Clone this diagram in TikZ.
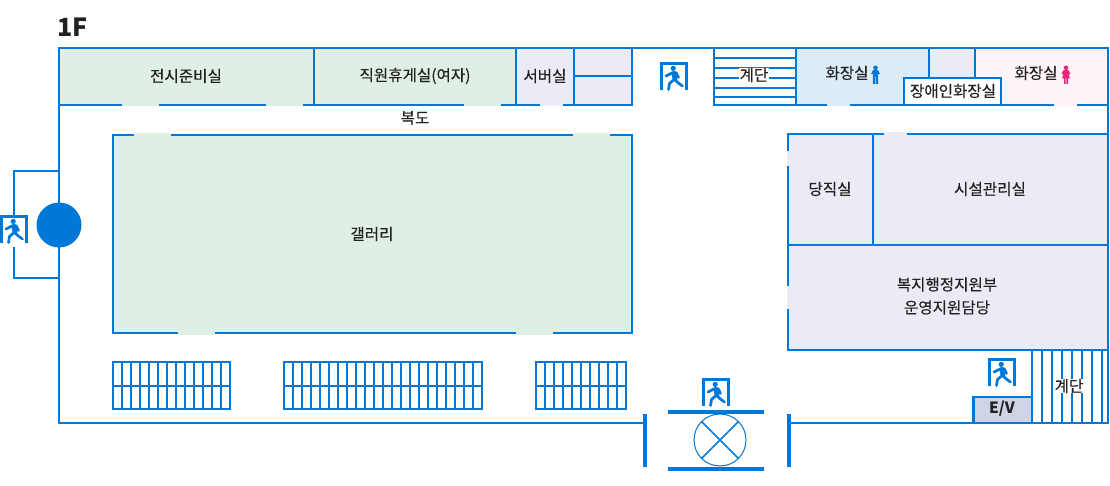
\documentclass[tikz,border=0pt]{standalone}
\usepackage{fontspec}
\setmainfont{Noto Sans CJK KR}[FakeBold=0.25]
\newfontfamily\floorfont{Noto Sans CJK KR}
\usepackage{xcolor}
\definecolor{wall}{HTML}{0078D7}
\definecolor{galgreen}{HTML}{E0EFE3}
\definecolor{offlav}{HTML}{EAEBF4}
\definecolor{wcblue}{HTML}{DCECF9}
\definecolor{wcpink}{HTML}{FFF5F9}
\definecolor{evgrey}{HTML}{CFD3E6}
\definecolor{ladypink}{HTML}{E6267E}
\definecolor{inktext}{HTML}{222222}
\tikzset{
  room/.style={draw=wall, line width=2.3pt},
  stairline/.style={draw=wall, line width=2.2pt},
  label/.style={text=inktext, font=\fontsize{15.6}{23}\selectfont, align=center, inner sep=0pt},
  stairlabel/.style={label, fill=white, inner sep=0.4pt},
  exitman/.pic={
    \draw[wall, line width=3.2pt] (1.4,28) -- (1.4,1.6) -- (26.6,1.6) -- (26.6,28);
    \fill[wall] (13.2,6.4) circle (2.6);
    \draw[wall, line width=5pt, line cap=round] (14,11.5) -- (15,16.5);
    \draw[wall, line width=2.7pt, line cap=round, line join=round]
      (13,10.5) -- (6,14) (16,10.5) -- (18.5,15.5)
      (15,18) -- (19,21.5) -- (22.5,24) (13.5,18) -- (9.5,21.5) -- (8.5,27.5);
  },
  gentsign/.pic={
    \fill[#1] (0,-7.2) circle (2.3);
    \fill[#1] (-4.5,-1) -- (-2.5,-4.8) -- (2.5,-4.8) -- (4.5,-1) -- (3,-1) -- (2.6,-2.5)
      -- (2.6,9) -- (0.4,9) -- (0.4,2) -- (-0.4,2) -- (-0.4,9) -- (-2.6,9) -- (-2.6,-2.5) -- (-3,-1) -- cycle;
  },
  ladysign/.pic={
    \fill[#1] (0,-7.2) circle (2.3);
    \fill[#1] (-4.5,-1) -- (-2.5,-4.8) -- (2.5,-4.8) -- (4.5,-1) -- (3.2,-0.5) -- (2,-2.5)
      -- (4,3.5) -- (2,3.5) -- (2,9) -- (0.4,9) -- (0.4,3.5) -- (-0.4,3.5) -- (-0.4,9) -- (-2,9) -- (-2,3.5) -- (-4,3.5) -- (-2,-2.5) -- (-3.2,-0.5) -- cycle;
  }
}
\begin{document}
\begin{tikzpicture}[x=1pt, y=-1pt]
\useasboundingbox (0,0) rectangle (1110,486);
% rooms along the top
\draw[room, fill=galgreen] (59,48) rectangle (314,105);
\draw[room, fill=galgreen] (314,48) rectangle (516,105);
\draw[room, fill=offlav] (516,48) rectangle (574,105);
\draw[room, fill=offlav] (574,48) rectangle (632,105);
\draw[room] (574,76) -- (632,76);
\draw[room, fill=wcblue] (796,48) rectangle (929,105);
\draw[room, fill=offlav] (929,48) rectangle (975,105);
\draw[room, fill=wcpink] (975,48) rectangle (1108,105);
\draw[room, fill=white] (904,78) rectangle (1001,105);
% stairs by the exit
\draw[room] (714,48) rectangle (796,105);
\foreach \y in {58,68,78,88,97}
  \draw[stairline] (714,\y) -- (796,\y);
\draw[room] (632,48) -- (714,48);
% gallery and the offices
\draw[room, fill=galgreen] (113,135) rectangle (632,333);
\draw[room, fill=offlav] (788,134) rectangle (873,245);
\draw[room, fill=offlav] (873,134) rectangle (1108,245);
\draw[room, fill=offlav] (788,245) rectangle (1108,350);
% outer walls
\draw[room] (59,48) -- (59,423) -- (645,423);
\draw[room] (789,423) -- (1108,423) -- (1108,48);
\draw[room] (59,171) -- (14,171) -- (14,215);
\draw[room] (14,247) -- (14,278) -- (59,278);
\fill[wall] (59,225) circle (22.5);
% door gaps
\foreach \a/\b in {122/159, 266/303, 464/501}
  \fill[galgreen] (\a,103.5) rectangle (\b,106.2);
\fill[offlav] (540,103.5) rectangle (563,106.2);
\fill[wcblue] (827,103.5) rectangle (850,106.5);
\fill[wcpink] (1054,103.5) rectangle (1077,106.5);
\foreach \a/\b in {134/171, 573/610}
  \fill[galgreen] (\a,133.5) rectangle (\b,136.5);
\foreach \a/\b in {178/215, 516/553}
  \fill[galgreen] (\a,331.5) rectangle (\b,335);
\fill[offlav] (884,132.5) rectangle (907,135.5);
\fill[offlav] (786.5,151) rectangle (789.5,166);
\fill[offlav] (786.5,286) rectangle (789.5,309);
% long stairs
\foreach \a/\n in {113/13, 284/22, 536/10}{
  \draw[stairline] (\a,362) rectangle ({\a+\n*9},409);
  \draw[stairline] (\a,386) -- ({\a+\n*9},386);
  \foreach \i in {1,...,\n}
    \draw[stairline] ({\a+\i*9},362) -- ({\a+\i*9},409);
}
% main entrance
\draw[wall, line width=4pt] (645,414) -- (645,467);
\draw[wall, line width=4pt] (789,414) -- (789,467);
\draw[wall, line width=4pt] (668,412) -- (764,412);
\draw[wall, line width=4pt] (668,469) -- (764,469);
\node[circle, draw=wall, line width=1pt, minimum size=52pt, inner sep=0pt] (door) at (720,440) {};
\draw[wall, line width=1.5pt] (door.north west) -- (door.south east);
\draw[wall, line width=1.5pt] (door.north east) -- (door.south west);
% lift and back stairs
\draw[room, fill=evgrey] (973.5,397) rectangle (1032,423);
\draw[room] (1032,350) -- (1032,423);
\foreach \x in {1042,1052,1062,1072,1082,1092,1102}
  \draw[stairline] (\x,350) -- (\x,423);
% exit signs
\pic at (660,62) {exitman};
\pic at (0,215) {exitman};
\pic at (702,378) {exitman};
\pic at (988,358) {exitman};
\pic at (875.5,75) {gentsign=wall};
\pic at (1066,75) {ladysign=ladypink};
% labels
\node[text=inktext, font=\floorfont\fontsize{25}{25}\selectfont\bfseries, inner sep=0pt] (floor) at (72.5,27) {1F};
\node[label] (prep) at (186,76) {전시준비실};
\node[label] (lounge) at (415,76) {직원휴게실(여자)};
\node[label] (server) at (545,76) {서버실};
\node[stairlabel] (stairup) at (754,75) {계단};
\node[label] (gents) at (847,73) {화장실};
\node[label] (access) at (953,91) {장애인화장실};
\node[label] (ladies) at (1036,73) {화장실};
\node[label] (hall) at (415,118) {복도};
\node[label] (gallery) at (372,234) {갤러리};
\node[label] (duty) at (830,189) {당직실};
\node[label] (facility) at (990,189) {시설관리실};
\node[label] (welfare) at (947,296) {복지행정지원부\\운영지원담당};
\node[stairlabel] (stairback) at (1069,386) {계단};
\node[text=inktext, font=\floorfont\fontsize{15.5}{16}\selectfont\bfseries, inner sep=0pt] (lift) at (1002,409) {E/V};
\end{tikzpicture}
\end{document}
